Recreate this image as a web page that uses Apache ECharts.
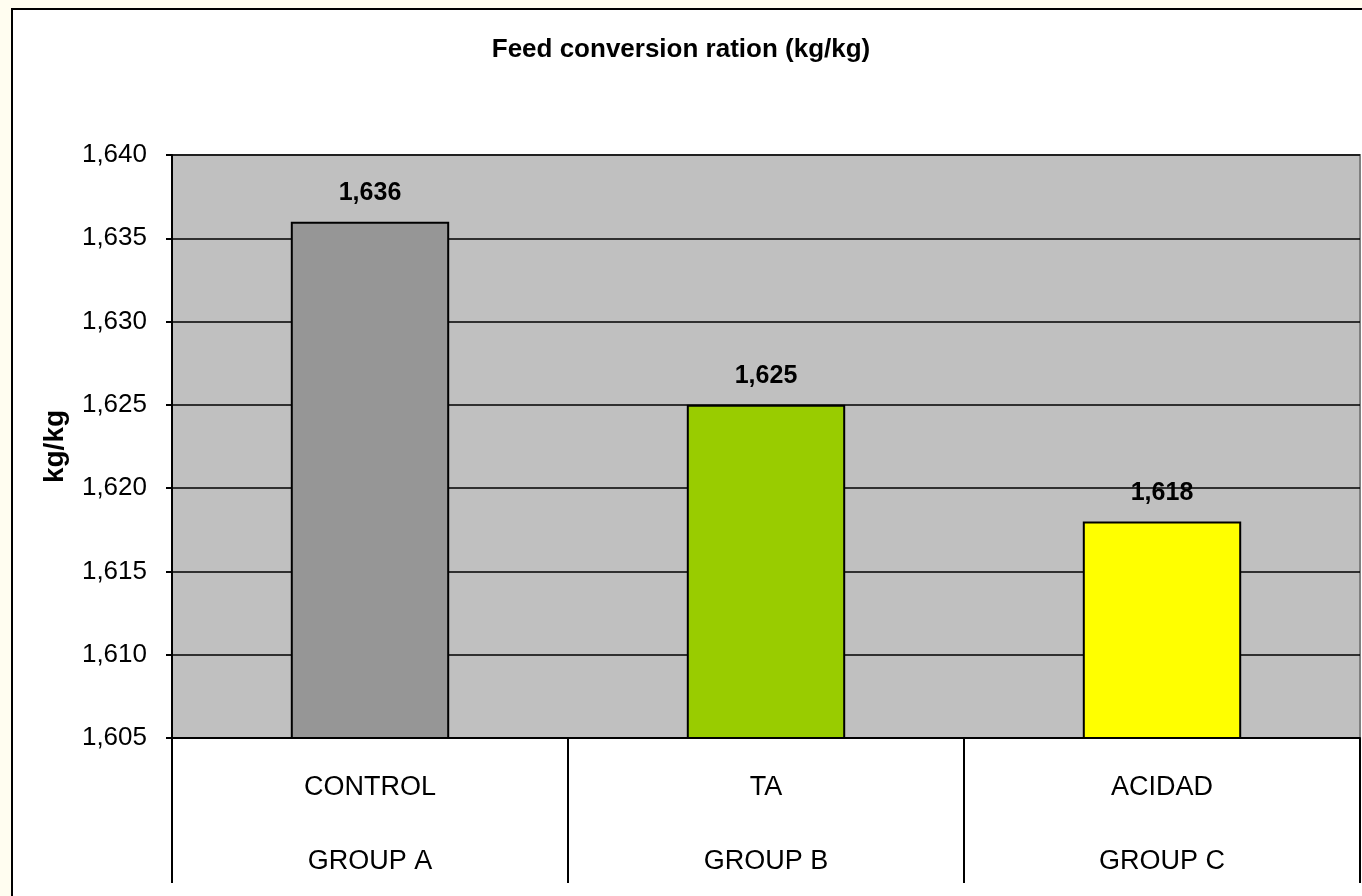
<!DOCTYPE html>
<html>
<head>
<meta charset="utf-8">
<script src="https://cdn.jsdelivr.net/npm/echarts@6/dist/echarts.min.js"></script>
<style>
  html, body { margin: 0; padding: 0; background: #FFFDF0; }
  #chart { width: 1362px; height: 896px; }
</style>
</head>
<body>
<div id="chart"></div>
<script>
// Feed conversion ratio per treatment group
const treatments = ['CONTROL', 'TA', 'ACIDAD'];
const groups = ['GROUP A', 'GROUP B', 'GROUP C'];
const fcrValues = [1.636, 1.625, 1.618];
const yTicks = { min: 1.605, max: 1.640, step: 0.005 };

const barColors = ['#969696', '#99CC00', '#FFFF00'];
const FONT = '"Liberation Sans Narrow", "Liberation Sans", Arial, sans-serif';

// decimal comma, three places
const fmt = v => Number(v).toFixed(3).replace('.', ',');

const chart = echarts.init(document.getElementById('chart'));
chart.setOption({
  backgroundColor: '#FFFDF0',
  animation: false,
  graphic: [{
    type: 'rect',
    z: -10,
    silent: true,
    shape: { x: 12, y: 9, width: 1400, height: 1000 },
    style: { fill: '#FFFFFF', stroke: '#000000', lineWidth: 2 }
  }],
  title: {
    text: 'Feed conversion ration (kg/kg)',
    left: 'center',
    top: 32,
    textStyle: { fontFamily: FONT, fontWeight: 'bold', fontSize: 26, color: '#000' }
  },
  grid: {
    left: 172, right: 2, top: 155, bottom: 158,
    outerBoundsMode: 'none',
    containLabel: false,
    show: true,
    backgroundColor: '#C0C0C0',
    borderColor: '#808080',
    borderWidth: 2
  },
  xAxis: {
    type: 'category',
    data: treatments.map((t, i) => t + '\n' + groups[i]),
    axisLine: { lineStyle: { color: '#000', width: 2 } },
    axisTick: { show: true, length: 145, lineStyle: { color: '#000', width: 2 } },
    axisLabel: {
      fontFamily: FONT, fontSize: 27, color: '#000',
      lineHeight: 74, margin: 13
    },
    splitLine: { show: false }
  },
  yAxis: {
    type: 'value',
    min: yTicks.min,
    max: yTicks.max,
    interval: yTicks.step,
    name: 'kg/kg',
    nameLocation: 'middle',
    nameGap: 103,
    nameRotate: 90,
    nameTextStyle: { fontFamily: FONT, fontWeight: 'bold', fontSize: 28, color: '#000' },
    axisLine: { show: true, lineStyle: { color: '#000', width: 2 } },
    axisTick: { show: true, length: 6, lineStyle: { color: '#000', width: 2 } },
    axisLabel: { fontFamily: FONT, fontSize: 26, color: '#000', margin: 25, formatter: fmt },
    splitLine: { show: true, lineStyle: { color: '#000', width: 1.5 } }
  },
  series: [{
    type: 'bar',
    barWidth: '40%',
    data: fcrValues.map((v, i) => ({ value: v, itemStyle: { color: barColors[i] } })),
    itemStyle: { borderColor: '#000', borderWidth: 2 },
    label: {
      show: true,
      position: 'top',
      distance: 16,
      fontFamily: FONT, fontWeight: 'bold', fontSize: 25, color: '#000',
      formatter: p => fmt(p.value)
    }
  }]
});
</script>
</body>
</html>
